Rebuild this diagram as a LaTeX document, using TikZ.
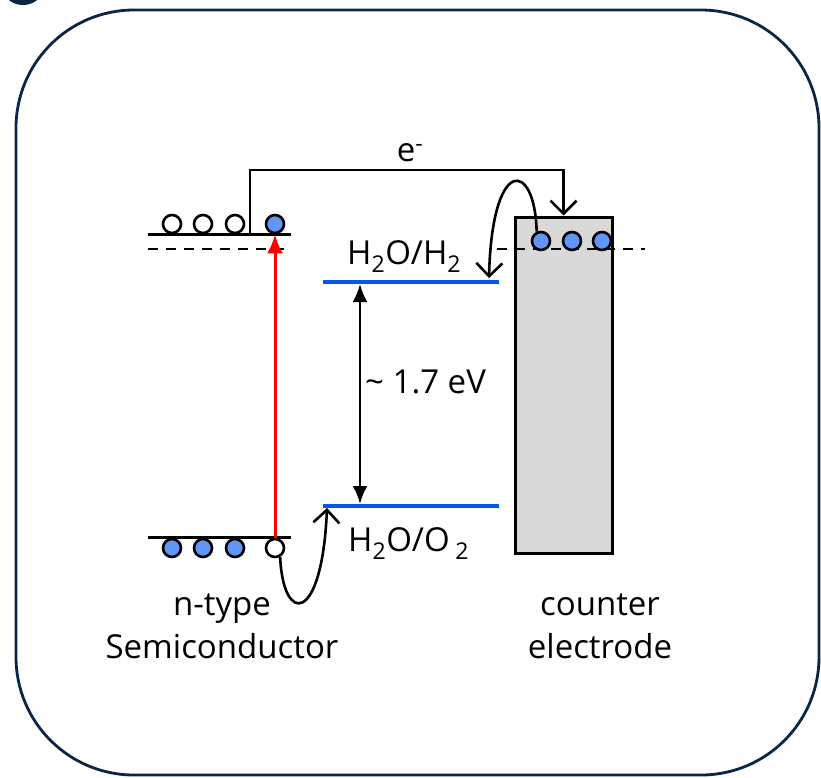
\documentclass[tikz,border=0pt]{standalone}
\usepackage{fontspec}
\setmainfont{Open Sans}
\usetikzlibrary{arrows.meta}
\definecolor{navy}{HTML}{0B2545}
\definecolor{redoxblue}{HTML}{0A55F2}
\definecolor{electron}{HTML}{6195F7}
\definecolor{metal}{HTML}{D9D9D9}

\begin{document}
\begin{tikzpicture}[x=1pt, y=-1pt,
    band/.style={line width=3pt},
    fermi/.style={line width=2.6pt, dash pattern=on 10pt off 8pt},
    redox/.style={redoxblue, line width=4pt},
    elec/.style={circle, draw, line width=2.6pt, fill=electron, minimum size=18pt, inner sep=0pt},
    hole/.style={elec, fill=white},
    hop/.style={line width=2.6pt, -{Straight Barb[length=13pt, width=26pt]}},
    lbl/.style={font=\fontsize{33}{40}\selectfont, inner sep=0pt}]
    \useasboundingbox (0,0) rectangle (821,777);
    \fill[navy] (23,-12) ellipse (20 and 17);
    \draw[navy, line width=2.8pt, rounded corners=118pt] (16,10) rectangle (819,775);

    % semiconductor bands
    \coordinate (cbL) at (148,234); \coordinate (cbR) at (291,234);
    \coordinate (efL) at (148,249); \coordinate (efR) at (291,249);
    \coordinate (vbL) at (148,537); \coordinate (vbR) at (291,537);
    \draw[band] (cbL) -- (cbR);
    \draw[fermi] (efL) -- (efR);
    \draw[band] (vbL) -- (vbR);
    \foreach \x [count=\i] in {172,203,235}
    \node[hole] (cb\i) at (\x,224) {};
    \node[elec] (cbe) at (275,224) {};
    \foreach \x [count=\i] in {172,203,235}
    \node[elec] (vb\i) at (\x,548) {};
    \node[hole] (vbh) at (275,548) {};
    \draw[red, line width=3pt, -{Latex[length=19pt, width=16pt]}] (vbh.north) -- (cbe.south);

    % redox levels
    \coordinate (h2L) at (323,282); \coordinate (h2R) at (499,282);
    \coordinate (o2L) at (323,506); \coordinate (o2R) at (499,506);
    \draw[redox] (h2L) -- (h2R);
    \draw[redox] (o2L) -- (o2R);
    \draw[line width=2.6pt, {Latex[length=18pt, width=15pt]}-{Latex[length=18pt, width=15pt]}] ([xshift=37pt, yshift=-2pt]h2L) -- ([xshift=37pt, yshift=2pt]o2L);
    \node[lbl, anchor=base west] (gap) at (365,393) {\textasciitilde{} 1.7 eV};
    \node[lbl, anchor=base west] (h2lbl) at (347,264) {H\textsubscript{2}O/H\textsubscript{2}};
    \node[lbl, anchor=base west] (o2lbl) at (348,551) {H\textsubscript{2}O/O\,\textsubscript{2}};

    % counter electrode
    \node[draw, fill=metal, line width=3pt, minimum width=97pt, minimum height=336pt] (ce) at (563.5,385) {};
    \coordinate (ceL) at (497,249); \coordinate (ceR) at (645,249);
    \draw[fermi] (ceL) -- (ceR);
    \foreach \x [count=\i] in {541,572,602}
    \node[elec] (ce\i) at (\x,241) {};

    % electron transfer
    \coordinate (eup) at (250,234);
    \draw[hop] (eup) -- (250,170) -| (ce.north);
    \node[lbl, anchor=base] (elbl) at (410,161) {e\textsuperscript{-}};
    \coordinate (h2tip) at (489,278);
    \draw[hop] (ce1.115) .. controls (535,160) and (492,155) .. (h2tip);
    \coordinate (o2tip) at (327,508);
    \draw[hop] (vbh.-60) .. controls (283,625) and (322,625) .. (o2tip);

    \node[lbl, anchor=base] (ntype) at (222,615) {n-type};
    \node[lbl, anchor=base] (semi) at (222,658) {Semiconductor};
    \node[lbl, anchor=base] (counter) at (600,615) {counter};
    \node[lbl, anchor=base] (electrode) at (600,658) {electrode};
\end{tikzpicture}
\end{document}
